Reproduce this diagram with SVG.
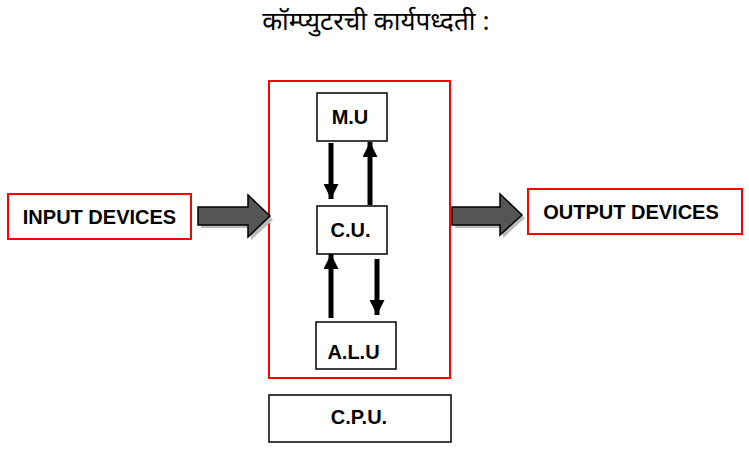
<svg xmlns="http://www.w3.org/2000/svg" width="749" height="450" viewBox="0 0 749 450">
<style>
.lbl{font-family:"Liberation Sans",Arial,sans-serif;font-weight:bold;font-size:20px;fill:#000;text-anchor:middle}
.box{fill:#fff;stroke:#000;stroke-width:1.5}
.red{fill:#fff;stroke:#f00;stroke-width:2}
.big{fill:#555;stroke:#000;stroke-width:1.5;stroke-linejoin:miter}
.sh{fill:#bbb}
</style>
<defs>
<marker id="ah" viewBox="0 0 10 10" refX="10" refY="5" markerWidth="3.2" markerHeight="3" orient="auto" markerUnits="strokeWidth">
<path d="M0,0 L10,5 L0,10 Z" fill="#000"/>
</marker>
</defs>
<rect width="749" height="450" fill="#fff"/>
<text x="376" y="30" style="font-family:'Noto Sans Devanagari','Noto Sans','Lohit Devanagari',Mangal,sans-serif;font-size:26px;fill:#000" text-anchor="middle">कॉम्प्युटरची कार्यपध्दती :</text>
<g id="cpu-frame"><rect class="red" x="269" y="81" width="181" height="297"/></g>
<g id="input"><rect class="red" x="8" y="194" width="183" height="45"/><text class="lbl" x="99.5" y="224">INPUT DEVICES</text></g>
<g id="output"><rect class="red" x="528" y="189" width="214" height="45"/><text class="lbl" x="631" y="219">OUTPUT DEVICES</text></g>
<g id="mu"><rect class="box" x="317" y="93" width="70" height="48"/><text class="lbl" x="350" y="124">M.U</text></g>
<g id="cu"><rect class="box" x="317" y="206" width="70" height="48"/><text class="lbl" x="350.5" y="237">C.U.</text></g>
<g id="alu"><rect class="box" x="316" y="322" width="80" height="47"/><text class="lbl" x="353.5" y="359">A.L.U</text></g>
<g id="cpu"><rect class="box" x="269" y="395" width="182" height="47"/><text class="lbl" x="359" y="424">C.P.U.</text></g>
<g id="connectors">
<path class="sh" d="M201,210 H251 V198 L273,220 L251,240 V228 H201 Z"/>
<path class="big" d="M198,207 H248 V195 L270,216 L248,237 V225 H198 Z"/>
<path class="sh" d="M455,210 H503 V197 L525,218 L503,238 V228 H455 Z"/>
<path class="big" d="M452,207 H500 V194 L522,215 L500,235 V225 H452 Z"/>
<line x1="331" y1="143" x2="331" y2="199" stroke="#000" stroke-width="5" marker-end="url(#ah)"/>
<line x1="370" y1="205" x2="370" y2="142" stroke="#000" stroke-width="5" marker-end="url(#ah)"/>
<line x1="331" y1="318" x2="331" y2="254" stroke="#000" stroke-width="5" marker-end="url(#ah)"/>
<line x1="377" y1="259" x2="377" y2="315" stroke="#000" stroke-width="5" marker-end="url(#ah)"/>
</g>
</svg>
